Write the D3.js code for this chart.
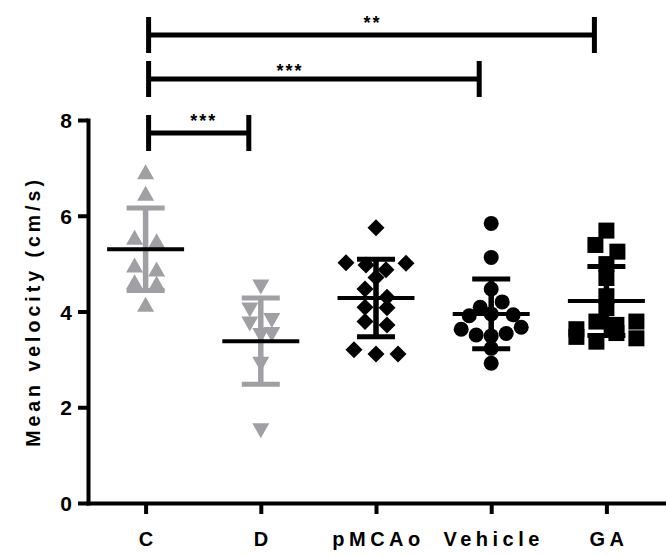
<!DOCTYPE html>
<html>
<head>
<meta charset="utf-8">
<script src="https://cdn.jsdelivr.net/npm/d3@7"></script>
<style>
  body { margin: 0; background: #fff; }
  svg { display: block; font-family: "Liberation Sans", Arial, sans-serif; font-weight: bold; }
</style>
</head>
<body>
<div class="chart"></div>
<script>
// groups on the x axis
var GROUPS = ["C", "D", "pMCAo", "Vehicle", "GA"];

// individual values (cm/s), roughly left to right per row
var VALUES_C = [6.92, 6.47, 5.55, 5.48, 4.97, 4.89, 4.62, 4.59, 4.15];
var VALUES_D = [4.51, 4.03, 3.81, 3.74, 3.50, 3.52, 2.90, 1.51];
var VALUES_PMCAO = [5.75, 5.02, 4.97, 4.87, 5.01, 4.71, 4.47, 4.09, 4.30, 4.08, 3.79, 3.72, 3.20, 3.11, 3.11];
var VALUES_VEHICLE = [5.84, 5.13, 4.47, 4.09, 4.20, 3.91, 3.95, 3.93, 3.63, 3.51, 3.49, 3.54, 3.67, 3.23, 2.92];
var VALUES_GA = [5.69, 5.39, 5.25, 4.99, 4.70, 4.32, 4.07, 3.63, 3.79, 3.72, 3.79, 3.47, 3.37, 3.55, 3.44];

// mean and SD drawn in the figure
var MEANS = [5.30, 3.38, 4.28, 3.95, 4.22];
var SDS = [0.86, 0.90, 0.81, 0.73, 0.72];

var Y_TICKS = [0, 2, 4, 6, 8];

// significance brackets
var BRACKET_FROM = ["C", "C", "C"];
var BRACKET_TO = ["GA", "Vehicle", "D"];
var BRACKET_LABELS = ["**", "***", "***"];

var ALL_VALUES = [VALUES_C, VALUES_D, VALUES_PMCAO, VALUES_VEHICLE, VALUES_GA];

var DEFAULTS = {
    width: 666,
    height: 556,
    gray: "#a0a0a4",
    axis_width: 4,
    row_gap: 11,
    dot_spacing: 22,
    max_half: 30,
    bracket_y: [35, 79, 133],
    bracket_label_dy: [-6, -2, -6],
    bracket_label_shift: [1, -24, 5]
};

var GROUP_COLOR = [DEFAULTS.gray, DEFAULTS.gray, "#000", "#000", "#000"];
var GROUP_SHAPE = ["triUp", "triDown", "diamond", "circle", "square"];

var SHAPES = {
    triUp: "M0,-7.5L8.5,7.5L-8.5,7.5Z",
    triDown: "M-8.5,-7.5L8.5,-7.5L0,7.5Z",
    diamond: "M0,-8.5L8.5,0L0,8.5L-8.5,0Z",
    circle: "M7.5,0A7.5,7.5 0 1,1 -7.5,0A7.5,7.5 0 1,1 7.5,0Z",
    square: "M-8,-8H8V8H-8Z"
};

var svg = d3.select(".chart").append("svg")
    .attr("width", DEFAULTS.width)
    .attr("height", DEFAULTS.height);

var y = d3.scaleLinear().domain([0, 8]).range([503, 120]);
var x = d3.scalePoint().domain(GROUPS).range([88, 664]).padding(0.5);

// y axis
var yAxis = svg.append("g")
    .attr("transform", "translate(88,0)")
    .call(d3.axisLeft(y).tickValues(Y_TICKS).tickSize(10).tickSizeOuter(0).tickPadding(6));

// x axis
var xAxis = svg.append("g")
    .attr("transform", "translate(0,503)")
    .call(d3.axisBottom(x).tickSize(11).tickSizeOuter(0).tickPadding(18));

[yAxis, xAxis].forEach(function (g) {
    g.select(".domain").attr("stroke-width", DEFAULTS.axis_width).attr("stroke-linecap", "square");
    g.selectAll(".tick line").attr("stroke-width", DEFAULTS.axis_width);
    g.selectAll("text").attr("fill", "#000");
});
yAxis.selectAll("text").style("font-size", "21px").attr("dy", "0.36em");
xAxis.selectAll("text").style("font-size", "20px").style("letter-spacing", "4.5px").attr("dx", "2px");

svg.append("text")
    .attr("transform", "translate(40,311.5) rotate(-90)")
    .attr("text-anchor", "middle")
    .style("font-size", "19.5px")
    .style("letter-spacing", "4px")
    .text("Mean velocity (cm/s)");

// put points of a group into rows so they don't sit on top of each other
function layoutRows(vals) {
    var pts = vals.map(function (v, i) { return {v: v, py: y(v), i: i, dx: 0}; });
    var sorted = pts.slice().sort(function (a, b) { return a.py - b.py || a.i - b.i; });
    var rows = [], cur = null;
    sorted.forEach(function (p) {
        if (!cur || p.py - cur[0].py > DEFAULTS.row_gap) { cur = [p]; rows.push(cur); }
        else cur.push(p);
    });
    rows.forEach(function (row) {
        row.sort(function (a, b) { return a.i - b.i; });
        var n = row.length;
        var sp = n > 1 ? Math.min(DEFAULTS.dot_spacing, 2 * DEFAULTS.max_half / (n - 1)) : 0;
        row.forEach(function (p, k) { p.dx = (k - (n - 1) / 2) * sp; });
    });
    return pts;
}

GROUPS.forEach(function (name, gi) {
    var cx = x(name);
    var g = svg.append("g").attr("class", "group");
    var color = GROUP_COLOR[gi];

    g.selectAll(".dot")
        .data(layoutRows(ALL_VALUES[gi]))
        .enter().append("path")
        .attr("class", "dot")
        .attr("d", SHAPES[GROUP_SHAPE[gi]])
        .attr("transform", function (d) { return "translate(" + (cx + d.dx) + "," + d.py + ")"; })
        .attr("fill", color);

    var hi = y(MEANS[gi] + SDS[gi]), lo = y(MEANS[gi] - SDS[gi]);
    g.append("line")
        .attr("x1", cx).attr("x2", cx).attr("y1", hi).attr("y2", lo)
        .attr("stroke", color).attr("stroke-width", 5.5);
    [hi, lo].forEach(function (yy) {
        g.append("line")
            .attr("x1", cx - 19).attr("x2", cx + 19).attr("y1", yy).attr("y2", yy)
            .attr("stroke", color).attr("stroke-width", 5);
    });
    g.append("line")
        .attr("x1", cx - 38.5).attr("x2", cx + 38.5)
        .attr("y1", y(MEANS[gi])).attr("y2", y(MEANS[gi]))
        .attr("stroke", "#000").attr("stroke-width", 4);
});

// significance brackets
BRACKET_LABELS.forEach(function (label, i) {
    var x1 = x(BRACKET_FROM[i]) + 3, x2 = x(BRACKET_TO[i]) - 12;
    var by = DEFAULTS.bracket_y[i];
    var g = svg.append("g").attr("class", "bracket");
    g.append("line").attr("x1", x1).attr("x2", x2).attr("y1", by).attr("y2", by)
        .attr("stroke", "#000").attr("stroke-width", 5);
    [x1, x2].forEach(function (xx) {
        g.append("line").attr("x1", xx).attr("x2", xx).attr("y1", by - 18).attr("y2", by + 18)
            .attr("stroke", "#000").attr("stroke-width", 5);
    });
    g.append("text")
        .attr("x", (x1 + x2) / 2 + DEFAULTS.bracket_label_shift[i])
        .attr("y", by + DEFAULTS.bracket_label_dy[i])
        .attr("text-anchor", "middle")
        .style("font-size", "18px")
        .style("letter-spacing", "2px")
        .text(label);
});
</script>
</body>
</html>
